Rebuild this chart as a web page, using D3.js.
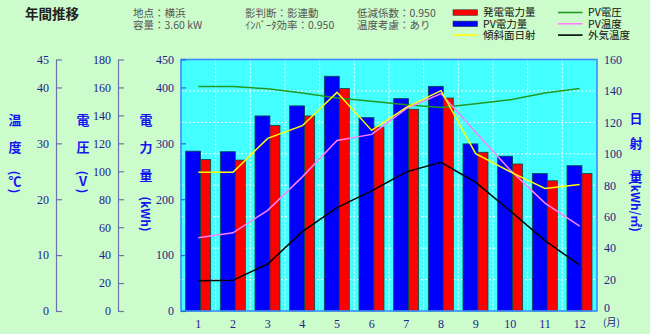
<!DOCTYPE html>
<html><head><meta charset="utf-8">
<script src="https://cdn.jsdelivr.net/npm/d3@7"></script>
<style>body{margin:0;background:#ccfccc;} svg{display:block;}</style>
</head><body>
<svg id="chart" width="650" height="334"></svg>
<script>
// ---- data ----
const months = [1,2,3,4,5,6,7,8,9,10,11,12];
const pvPower  = [286,285,349,367,420,346,380,402,299,277,246,260];   // PV電力量 (kWh)
const genPower = [271,270,332,349,398,329,361,381,284,263,233,246];   // 発電電力量 (kWh)
const pvVoltage = [160.7,160.7,159,156,152.4,150.2,147.6,145.7,148.3,151.2,156,159.3]; // PV電圧 (V)
const irradiance = [88.2,88.2,109.8,117.9,139.1,114.9,129.6,140.2,100.1,88.5,78,80.5]; // 傾斜面日射 (kWh/㎡)
const pvTemp = [13.1,14.0,18.0,24.0,30.5,31.6,36.2,38.9,32.0,25.2,19.3,15.2]; // PV温度 (℃)
const outTemp = [5.4,5.5,8.4,14.2,18.5,21.5,24.9,26.6,23.0,17.9,12.6,8.2]; // 外気温度 (℃)
const tempTicks = [0,10,20,30,40,45];
const voltTicks = [0,20,40,60,80,100,120,140,160,180];
const powerTicks = [0,100,200,300,400,450];
const irrTicks = [0,20,40,60,80,100,120,140,160];
const legendItems = [
  {label:"発電電力量", kind:"rect", color:"#ff0000"},
  {label:"PV電力量", kind:"rect", color:"#0000ff"},
  {label:"傾斜面日射", kind:"line", color:"#ffff00"},
  {label:"PV電圧", kind:"line", color:"#229922"},
  {label:"PV温度", kind:"line", color:"#ff80ff"},
  {label:"外気温度", kind:"line", color:"#000000"}
];

// ---- layout ----
const svg = d3.select("#chart");
const L = 181, R = 597, T = 59.5, B = 311;
const x = d3.scaleBand().domain(months).range([L, R]).padding(0);
const yP = d3.scaleLinear().domain([0,450]).range([B,T]);
const yT = d3.scaleLinear().domain([0,45]).range([B,T]);
const yV = d3.scaleLinear().domain([0,180]).range([B,T]);
const yR = d3.scaleLinear().domain([0,160]).range([B,T]);
const bw = x.bandwidth();

const numFont = "'Liberation Serif', 'DejaVu Serif', serif";
const jpFont = "'Noto Sans CJK JP', sans-serif";
const numColor = "#22228a";
const axisColor = "#6a74a8";
const titleColor = "#1414f0";

// ---- header ----
svg.append("text").attr("x",25).attr("y",18.5).attr("font-family",jpFont).attr("font-weight","bold")
  .attr("font-size",13.5).attr("fill","#222").text("年間推移");
const info = [
  [133,17,"地点：横浜"],[133,29,"容量：3.60 kW"],
  [245,17,"影判断：影連動"],[245,29,"ｲﾝﾊﾞｰﾀ効率：0.950"],
  [357,17,"低減係数：0.950"],[357,29,"温度考慮：あり"]
];
svg.selectAll("text.info").data(info).enter().append("text").attr("class","info")
  .attr("x",d=>d[0]).attr("y",d=>d[1]).attr("font-family",jpFont).attr("font-size",10.5)
  .attr("fill","#555").text(d=>d[2]);

// ---- legend ----
const lg = svg.append("g");
legendItems.forEach((d,i)=>{
  const col = Math.floor(i/3), row = i%3;
  const lx = col===0 ? 453 : 558, ty = 12.5 + row*11.3;
  if (d.kind==="rect") {
    lg.append("rect").attr("x",lx).attr("y",ty-2.7).attr("width",24.5).attr("height",5.5)
      .attr("fill",d.color).attr("stroke","#333").attr("stroke-width",0.6);
  } else {
    lg.append("line").attr("x1",lx).attr("x2",lx+24.5).attr("y1",ty).attr("y2",ty)
      .attr("stroke",d.color).attr("stroke-width",1.6);
  }
  lg.append("text").attr("x",lx+30).attr("y",ty+3.8).attr("font-family",jpFont).attr("font-size",10.5)
    .attr("fill","#111").text(d.label);
});

// ---- plot background ----
svg.append("rect").attr("x",L).attr("y",T).attr("width",R-L).attr("height",B-T).attr("fill","#44ffff");

// gridlines (horizontal from irradiance ticks, vertical at month boundaries)
svg.append("g").selectAll("line").data(irrTicks.filter(t=>t>0&&t<160)).enter().append("line")
  .attr("x1",L).attr("x2",R).attr("y1",d=>yR(d)).attr("y2",d=>yR(d))
  .attr("stroke","#ffffff").attr("stroke-width",1).attr("stroke-dasharray","2,2");
svg.append("g").selectAll("line").data(months.slice(1)).enter().append("line")
  .attr("x1",d=>x(d)).attr("x2",d=>x(d)).attr("y1",T).attr("y2",B)
  .attr("stroke","#ffffff").attr("stroke-width",1).attr("stroke-dasharray","2,2");

// ---- bars ----
svg.append("g").selectAll("rect").data(months).enter().append("rect")
  .attr("x",d=>x(d)+bw*0.135).attr("width",bw*0.43)
  .attr("y",(d,i)=>yP(pvPower[i])).attr("height",(d,i)=>B-yP(pvPower[i]))
  .attr("fill","#0000ff").attr("stroke","#004848").attr("stroke-width",0.8);
svg.append("g").selectAll("rect").data(months).enter().append("rect")
  .attr("x",d=>x(d)+bw*0.565).attr("width",bw*0.29)
  .attr("y",(d,i)=>yP(genPower[i])).attr("height",(d,i)=>B-yP(genPower[i]))
  .attr("fill","#ff0000").attr("stroke","#004848").attr("stroke-width",0.8);

// ---- lines ----
const cx = d=>x(d)+bw/2;
function drawLine(vals, scale, color){
  const line = d3.line().x((d,i)=>cx(months[i])).y(d=>scale(d));
  svg.append("path").datum(vals).attr("d",line).attr("fill","none")
    .attr("stroke",color).attr("stroke-width",1.5);
}
drawLine(pvVoltage, yV, "#229922");
drawLine(outTemp, yT, "#000000");
drawLine(pvTemp, yT, "#ff80ff");
drawLine(irradiance, yR, "#ffff00");

// plot border
svg.append("rect").attr("x",L).attr("y",T).attr("width",R-L).attr("height",B-T)
  .attr("fill","none").attr("stroke","#3a8cff").attr("stroke-width",1.6);

// ---- axes ----
function styleAxis(g){
  g.attr("font-family",numFont);
  g.selectAll("text").attr("font-family",numFont).attr("font-size",12).attr("fill",numColor);
  g.selectAll("line").attr("stroke",axisColor).attr("stroke-width",1.2);
  g.selectAll("path.domain").attr("stroke",axisColor).attr("stroke-width",1.2);
}
const gT = svg.append("g").attr("transform","translate(56,0)")
  .call(d3.axisLeft(yT).tickValues(tempTicks).tickSizeInner(-6).tickSizeOuter(0).tickPadding(7));
styleAxis(gT);
const gV = svg.append("g").attr("transform","translate(118,0)")
  .call(d3.axisLeft(yV).tickValues(voltTicks).tickSizeInner(-6).tickSizeOuter(0).tickPadding(7));
styleAxis(gV);
const gP = svg.append("g").attr("transform",`translate(${L},0)`)
  .call(d3.axisLeft(yP).tickValues(powerTicks).tickSizeInner(-5).tickSizeOuter(0).tickPadding(7));
styleAxis(gP);
gP.select("path.domain").remove();
gP.selectAll("line").attr("stroke","#2a6ad0");
const gR = svg.append("g").attr("transform",`translate(${R},0)`)
  .call(d3.axisRight(yR).tickValues(irrTicks).tickSize(0).tickPadding(7));
styleAxis(gR);
gR.select("path.domain").remove();
gR.selectAll(".tick").filter(d=>d===0).select("text").attr("dy","0.05em");
const gX = svg.append("g").attr("transform",`translate(0,${B})`)
  .call(d3.axisBottom(x).tickSize(0).tickPadding(8));
styleAxis(gX);
gX.select("path.domain").remove();
svg.append("text").attr("x",603).attr("y",326).attr("font-family",jpFont).attr("font-size",10)
  .attr("fill",numColor).text("(月)");

// ---- axis titles (vertical) ----
function vchars(xp, chars, ys){
  chars.forEach((c,i)=>{
    svg.append("text").attr("x",xp).attr("y",ys[i]).attr("text-anchor","middle")
      .attr("font-family",jpFont).attr("font-weight","bold").attr("font-size",13)
      .attr("fill",titleColor).text(c);
  });
}
function rotText(xp, yp, s, fs){
  svg.append("text").attr("transform",`translate(${xp},${yp}) rotate(90)`).attr("text-anchor","middle")
    .attr("dominant-baseline","central")
    .attr("font-family",jpFont).attr("font-weight","bold").attr("font-size",fs).attr("fill",titleColor).text(s);
}
vchars(15, ["温","度"], [125,152]);
rotText(15, 173, "(", 12); vchars(15, ["℃"], [186]); rotText(15, 191, ")", 12);
vchars(83, ["電","圧"], [125,152]);
rotText(83, 173, "(", 12); vchars(83, ["V"], [186]); rotText(83, 191, ")", 12);
vchars(146, ["電","力","量"], [125,152,180]);
rotText(146, 214, "(kWh)", 12);
vchars(636, ["日","射","量"], [123,148,181]);
rotText(636, 206, "(kWh/㎡)", 12);
</script>
</body></html>
